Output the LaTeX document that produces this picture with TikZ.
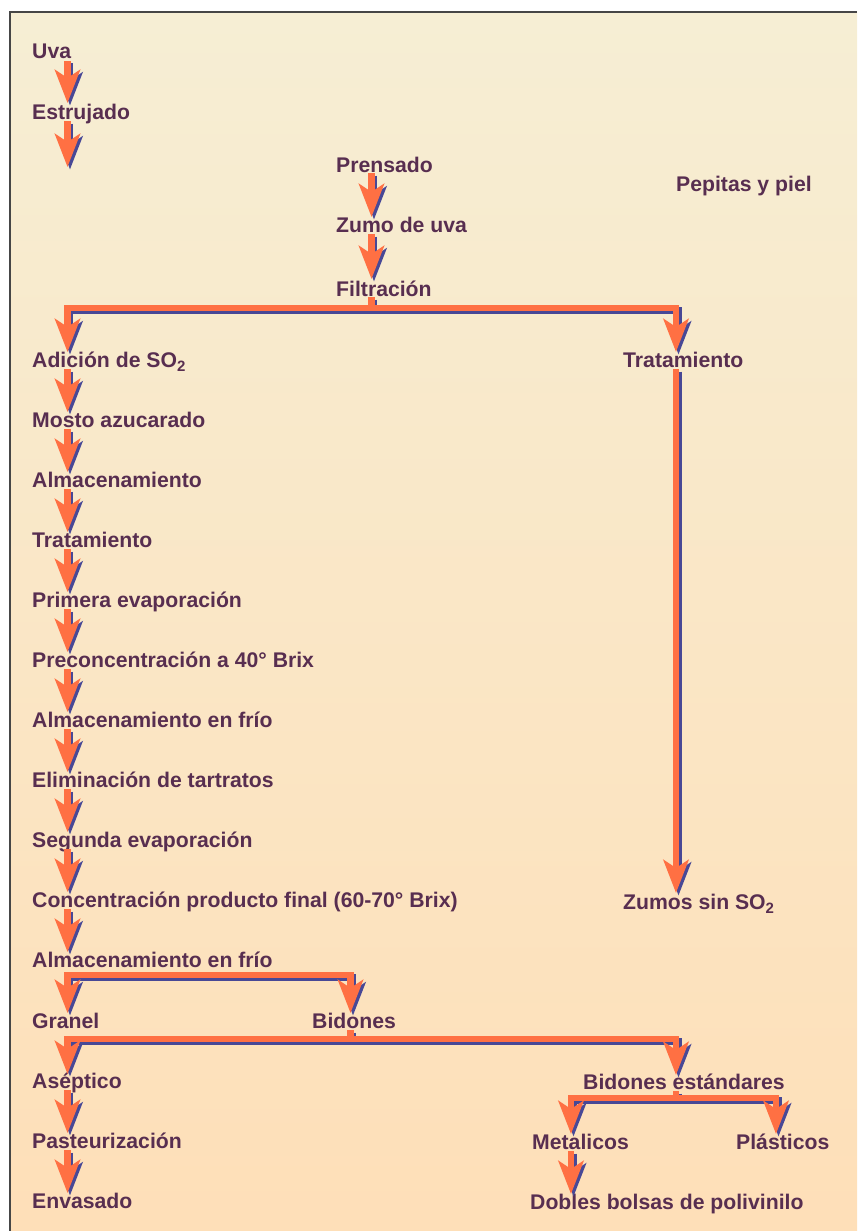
\documentclass[tikz,border=0pt]{standalone}
\usepackage{fontspec}
\setmainfont{Liberation Sans}
\usetikzlibrary{arrows.meta,calc}
\definecolor{txt}{RGB}{88,46,80}
\definecolor{flowor}{RGB}{255,112,67}
\definecolor{flowbl}{RGB}{72,72,150}
\definecolor{bgtop}{RGB}{246,238,212}
\definecolor{bgbot}{RGB}{254,223,184}
\definecolor{framecol}{RGB}{70,70,70}
\newcommand\subtwo{\raisebox{-4.5pt}{\fontsize{15}{15}\selectfont 2}}
\tikzset{
 lbl/.style={anchor=base west, inner sep=0pt, text=txt, font=\fontsize{21.2}{24}\selectfont\bfseries},
 tipshape/.tip={Stealth[length=33pt,width=25pt,inset=8pt]},
 flow/.style={line width=6.5pt, -tipshape},
 flowboth/.style={line width=6.5pt, tipshape-tipshape},
 flowline/.style={line width=6.5pt},
}
\newcommand\flowpaths{%
 \draw[flow] ($(uva.base -| cL)+(0,2)$) -- ($(estr.base -| cL)+(0,-16)$);
 \draw[flow] ($(estr.base -| cL)+(0,2)$) -- (estrEnd);
 \draw[flow] ($(pren.base -| cP)+(0,1)$) -- ($(zumo.base -| cP)+(0,-15)$);
 \draw[flow] ($(zumo.base -| cP)+(0,2)$) -- ($(filt.base -| cP)+(0,-17)$);
 \draw[flowline] ($(filt.base -| cP)+(0,1)$) -- ($(filt.base -| cP)+(0,12)$);
 \draw[flowboth] ($(adic.base -| cL)+(0,-15)$) -- ($(filt.base -| cL)+(0,12)$) -- ($(filt.base -| cR)+(0,12)$) -- ($(trat2.base -| cR)+(0,-15)$);
 \draw[flow] ($(trat2.base -| cR)+(0,2)$) -- ($(zsin.base -| cR)+(0,-16)$);
 \foreach \a/\b in {adic/mosto, mosto/almA, almA/trat, trat/prim, prim/prec, prec/almfA, almfA/elim, elim/seg, seg/conc, conc/almfB, asep/past, past/env}
  \draw[flow] ($(\a.base -| cL)+(0,2)$) -- ($(\b.base -| cL)+(0,-15)$);
 \draw[flowboth] ($(gran.base -| cL)+(0,-15)$) -- ($(almfB.base -| cL)+(0,8)$) -- ($(almfB.base -| cB)+(0,8)$) -- ($(bid.base -| cB)+(0,-15)$);
 \draw[flowline] ($(bid.base -| cB)+(0,2)$) -- ($(bid.base -| cB)+(0,11)$);
 \draw[flowboth] ($(asep.base -| cL)+(0,-14)$) -- ($(bid.base -| cL)+(0,11)$) -- ($(bid.base -| cR)+(0,11)$) -- ($(bidest.base -| cR)+(0,-14)$);
 \draw[flowline] ($(bidest.base -| cR)+(0,2)$) -- ($(bidest.base -| cR)+(0,9)$);
 \draw[flowboth] ($(met.base -| cS)+(0,-15)$) -- ($(bidest.base -| cS)+(0,9)$) -- ($(bidest.base -| cT)+(0,9)$) -- ($(plas.base -| cT)+(0,-15)$);
 \draw[flow] ($(met.base -| cS)+(0,2)$) -- ($(dob.base -| cS)+(0,-15)$);
}
\begin{document}
\begin{tikzpicture}[x=1pt,y=-1pt]
\useasboundingbox (0,0) rectangle (857,1231);
\shade[top color=bgtop, bottom color=bgbot] (10,12) rectangle (857,1231);
\draw[framecol, line width=2pt] (10,1231) -- (10,12) -- (857,12);
% columns
\coordinate (cL) at (67.5,0);
\coordinate (cP) at (371.5,0);
\coordinate (cR) at (676,0);
\coordinate (cB) at (350.5,0);
\coordinate (cS) at (571,0);
\coordinate (cT) at (776,0);
\coordinate (estrEnd) at (67.5,167);
% labels
\node[lbl] (uva) at (32,59) {Uva};
\node[lbl] (estr) at (32,119) {Estrujado};
\node[lbl] (pren) at (336,172) {Prensado};
\node[lbl] (zumo) at (336,232) {Zumo de uva};
\node[lbl] (filt) at (336,296) {Filtración};
\node[lbl] (pepi) at (676,191) {Pepitas y piel};
\node[lbl] (adic) at (32,367) {Adición de SO\subtwo};
\node[lbl] (trat2) at (623,367) {Tratamiento};
\node[lbl] (mosto) at (32,427) {Mosto azucarado};
\node[lbl] (almA) at (32,487) {Almacenamiento};
\node[lbl] (trat) at (32,547) {Tratamiento};
\node[lbl] (prim) at (32,607) {Primera evaporación};
\node[lbl] (prec) at (32,667) {Preconcentración a 40° Brix};
\node[lbl] (almfA) at (32,727) {Almacenamiento en frío};
\node[lbl] (elim) at (32,787) {Eliminación de tartratos};
\node[lbl] (seg) at (32,847) {Segunda evaporación};
\node[lbl] (conc) at (32,907) {Concentración producto final (60-70° Brix)};
\node[lbl] (zsin) at (623,909) {Zumos sin SO\subtwo};
\node[lbl] (almfB) at (32,967) {Almacenamiento en frío};
\node[lbl] (gran) at (32,1028) {Granel};
\node[lbl] (bid) at (312,1028) {Bidones};
\node[lbl] (asep) at (32,1088) {Aséptico};
\node[lbl] (bidest) at (583,1089) {Bidones estándares};
\node[lbl] (past) at (32,1148) {Pasteurización};
\node[lbl] (met) at (532,1149) {Metalicos};
\node[lbl] (plas) at (736,1149) {Plásticos};
\node[lbl] (env) at (32,1208) {Envasado};
\node[lbl] (dob) at (530,1209) {Dobles bolsas de polivinilo};
% connectors: shadow then main
\begin{scope}[flowbl, transform canvas={shift={(2.5pt,-2.5pt)}}]
\flowpaths
\end{scope}
\begin{scope}[flowor]
\flowpaths
\end{scope}
\end{tikzpicture}
\end{document}
